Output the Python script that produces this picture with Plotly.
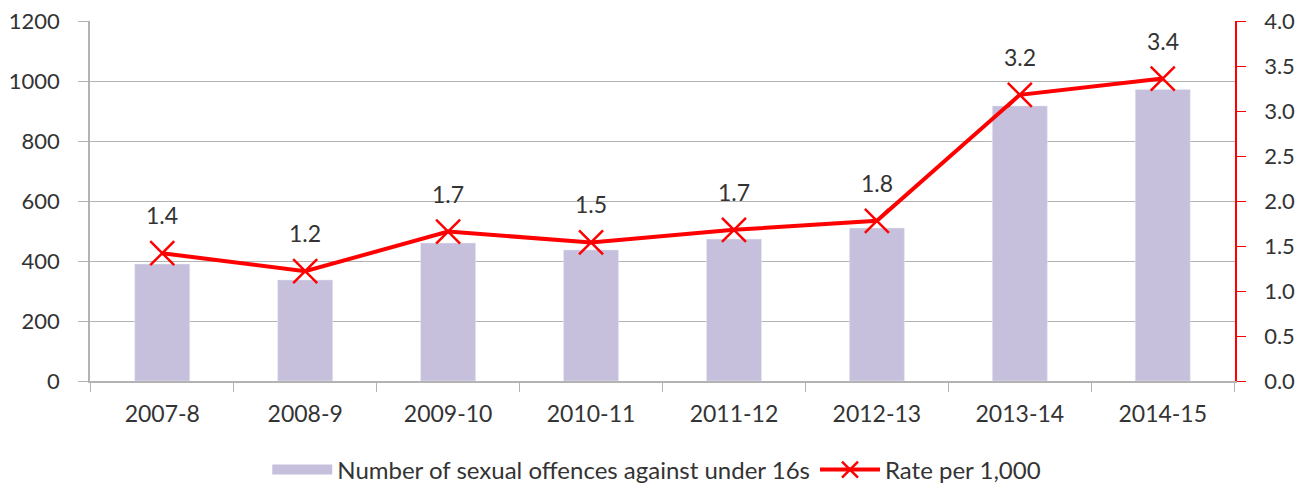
import plotly.graph_objects as go

YEARS = ["2007-8", "2008-9", "2009-10", "2010-11", "2011-12", "2012-13", "2013-14", "2014-15"]
OFFENCES = [390, 337, 460, 437, 473, 510, 917, 972]
RATE = [1.42, 1.22, 1.66, 1.54, 1.68, 1.78, 3.18, 3.36]

FONT = "Lato, 'Open Sans', sans-serif"
TEXT = "#333333"
GRID = "#b3b3b3"
BAR = "#c7c0dc"
FS = 22

fig = go.Figure()
fig.add_trace(
    go.Bar(
        x=YEARS,
        y=OFFENCES,
        name="Number of sexual offences against under 16s",
        marker_color=BAR,
        width=0.385,
        showlegend=False,
    )
)
# legend-only entry so the bar swatch is a wide block like the original
fig.add_trace(
    go.Scatter(
        x=[None], y=[None], mode="lines",
        name="Number of sexual offences against under 16s",
        line=dict(color=BAR, width=17),
    )
)
fig.add_trace(
    go.Scatter(
        x=YEARS,
        y=RATE,
        yaxis="y2",
        mode="lines+markers",
        name="Rate per 1,000",
        line=dict(color="#ff0000", width=4),
        marker=dict(symbol="x-thin", size=24, line=dict(color="#ff0000", width=2.5)),
    )
)

for year, r in zip(YEARS, RATE):
    fig.add_annotation(
        x=year, y=r, yref="y2", text=f"{r:.1f}", showarrow=False,
        yshift=38, font=dict(size=23, color=TEXT, family=FONT),
    )

fig.update_layout(
    width=1306,
    height=488,
    # the page body adds an 8px margin, so the margins are trimmed to match
    margin=dict(l=82, r=79, t=13, b=115, autoexpand=False),
    plot_bgcolor="white",
    paper_bgcolor="white",
    font=dict(family=FONT, size=FS, color=TEXT),
    showlegend=True,
    legend=dict(
        orientation="h", x=0.495, xanchor="center", y=-0.247, yanchor="middle",
        font=dict(size=24, color=TEXT), traceorder="normal", itemwidth=60,
    ),
    xaxis=dict(
        type="category",
        showline=True, linecolor=GRID, linewidth=1.5,
        ticks="outside", tickcolor=GRID, ticklen=9, tickson="boundaries",
        ticklabelstandoff=12,
        showgrid=False, tickfont=dict(size=23),
    ),
    yaxis=dict(
        range=[0, 1200], dtick=200, showline=True, linecolor=GRID, linewidth=1.5,
        showgrid=True, gridcolor=GRID, gridwidth=1, ticks="outside", tickcolor=GRID,
        ticklen=10, ticklabelstandoff=14, tickfont=dict(size=FS), zeroline=False,
        ticklabeloverflow="allow",
    ),
    yaxis2=dict(
        range=[0, 4.0], dtick=0.5, tickformat=".1f", overlaying="y", side="right",
        showline=True, linecolor="#ff0000", linewidth=1.5, ticks="outside",
        tickcolor="#ff0000", ticklen=9, ticklabelstandoff=14, showgrid=False, zeroline=False,
        tickfont=dict(size=FS), ticklabeloverflow="allow",
    ),
)

fig.write_html("out.html")
